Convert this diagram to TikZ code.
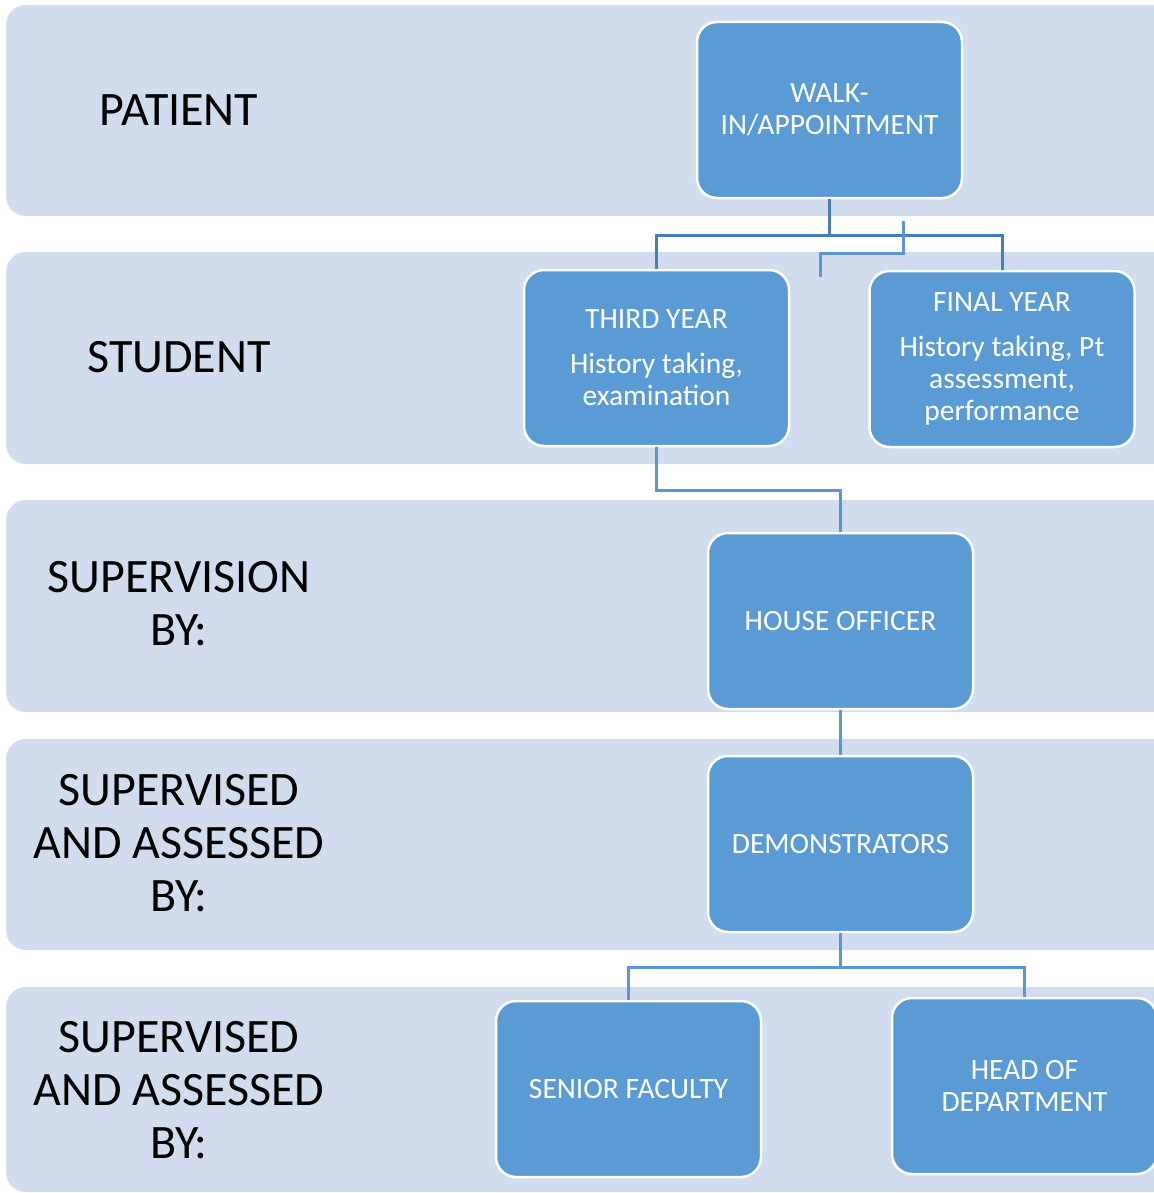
\documentclass[tikz,border=0pt]{standalone}
\usepackage{fontspec}
\setmainfont{Carlito}
\definecolor{bandfill}{RGB}{209,221,238}
\definecolor{boxfill}{RGB}{91,155,213}
\definecolor{linedark}{RGB}{74,126,187}
\definecolor{linelight}{RGB}{91,150,210}
\begin{document}
\begin{tikzpicture}[x=1pt,y=-1pt,
  band/.style={fill=bandfill,draw=none,rounded corners=20pt},
  rolebox/.style={rectangle,fill=boxfill,draw=white,line width=2.5pt,rounded corners=20pt,
    minimum width=265pt,minimum height=176pt,align=center,text=white,
    font=\fontsize{29.5}{32}\selectfont,inner sep=4pt},
  lefttext/.style={align=center,text=black,font=\fontsize{48}{53}\selectfont},
  conn/.style={draw=linedark,line width=3pt},
  connlight/.style={draw=linelight,line width=3pt}]
\useasboundingbox (0,0) rectangle (1153,1193);
% bands
\fill[band] (6,5) rectangle (1180,216);
\fill[band] (6,252) rectangle (1180,464);
\fill[band] (6,500) rectangle (1180,712);
\fill[band] (6,739) rectangle (1180,950);
\fill[band] (6,987) rectangle (1180,1192);
% left labels
\node[lefttext] (lpatient) at (179,110) {PATIENT};
\node[lefttext] (lstudent) at (179,357) {STUDENT};
\node[lefttext] (lsup) at (179,604) {SUPERVISION\\BY:};
\node[lefttext] (lsupa) at (179,843) {SUPERVISED\\AND ASSESSED\\BY:};
\node[lefttext] (lsupb) at (179,1090) {SUPERVISED\\AND ASSESSED\\BY:};
% boxes
\node[rolebox] (walk) at (829.5,110) {WALK-\\IN/APPOINTMENT};
\node[rolebox] (third) at (656.5,358) {THIRD YEAR\\[13pt]History taking,\\examination};
\node[rolebox] (final) at (1002,359) {FINAL YEAR\\[13pt]History taking, Pt\\assessment,\\performance};
\node[rolebox] (house) at (840.5,621) {HOUSE OFFICER};
\node[rolebox] (demo) at (840.5,844) {DEMONSTRATORS};
\node[rolebox] (senior) at (628.5,1089) {SENIOR FACULTY};
\node[rolebox] (head) at (1024.5,1086) {HEAD OF\\DEPARTMENT};
% connectors
\draw[conn] (walk.south) -- ++(0,36) -| (third.north);
\draw[conn] (walk.south) -- ++(0,36) -| (final.north);
\coordinate (ls) at (903,221);
\coordinate (le) at (820,277);
\draw[connlight] (ls) -- (903,253) -| (le);
\draw[connlight] (third.south) -- ++(0,43) -| (house.north);
\draw[connlight] (house.south) -- (demo.north);
\draw[connlight] (demo.south) -- ++(0,34) -| (senior.north);
\draw[connlight] (demo.south) -- ++(0,34) -| (head.north);
\end{tikzpicture}
\end{document}
